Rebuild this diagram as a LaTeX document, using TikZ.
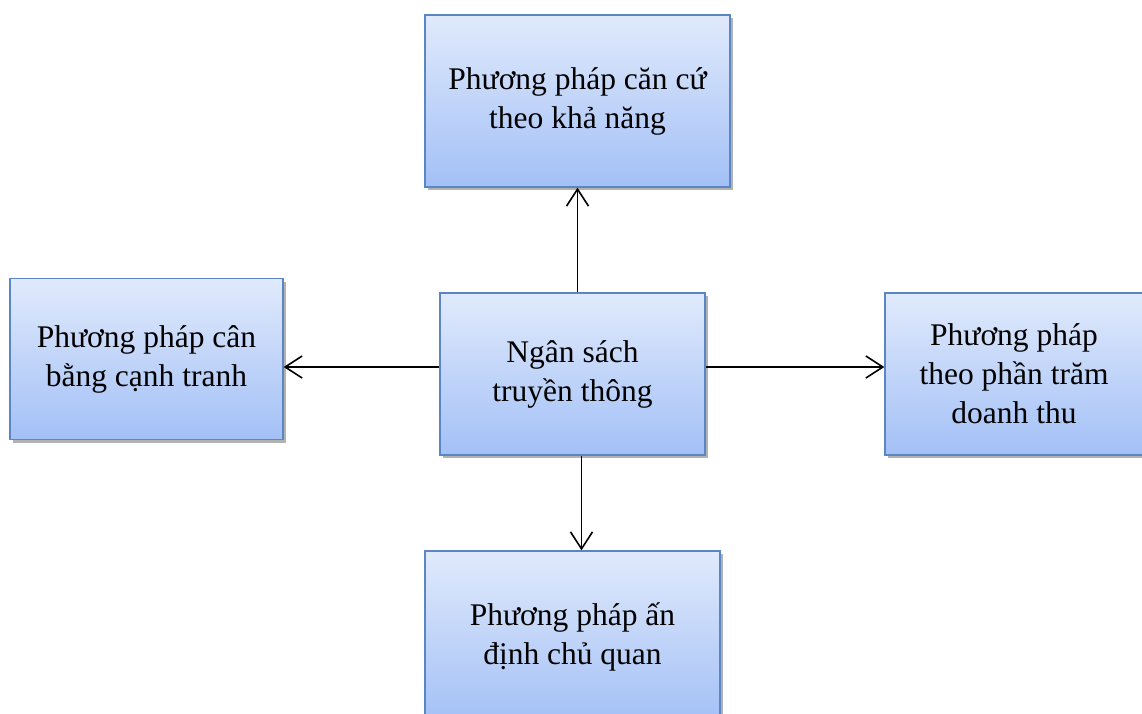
\documentclass[tikz,border=0pt]{standalone}
\usepackage{fontspec}
\setmainfont{Liberation Serif}
\usetikzlibrary{arrows.meta,shadows,calc}
\definecolor{boxtop}{HTML}{E0EAFC}
\definecolor{boxbot}{HTML}{A3C0F6}
\definecolor{boxline}{HTML}{5A87C4}
\begin{document}
\begin{tikzpicture}[x=1pt,y=-1pt,
  box/.style={rectangle, draw=boxline, line width=1.3pt, top color=boxtop, bottom color=boxbot,
    drop shadow={shadow xshift=2.5pt, shadow yshift=-3pt, fill=black, opacity=0.3},
    align=center, font=\fontsize{31.5}{39}\selectfont, inner sep=0pt},
  arr/.style={line width=1.6pt, -{Straight Barb[length=17pt,width=22pt,line width=1.6pt]}}]
\useasboundingbox (0,0) rectangle (1142,713);
\node[box, minimum width=305pt, minimum height=172pt] (top) at (577.5,101) {Phương pháp căn cứ\\theo khả năng};
\node[box, minimum width=265pt, minimum height=162pt] (center) at (572.5,374) {Ngân sách\\truyền thông};
\node[box, minimum width=273pt, minimum height=161pt] (left) at (146.5,359) {Phương pháp cân\\bằng cạnh tranh};
\node[box, minimum width=258pt, minimum height=162pt] (right) at (1014,374) {Phương pháp\\theo phần trăm\\doanh thu};
\node[box, minimum width=295pt, minimum height=172pt] (bottom) at (572.5,637) {Phương pháp ấn\\định chủ quan};
\coordinate (lc) at ([yshift=7pt]center.west);
\coordinate (rc) at ([yshift=7pt]center.east);
\draw[arr] (center.north -| top.south) -- (top.south);
\draw[arr] ([xshift=9pt]center.south) -- ([xshift=9pt]bottom.north);
\draw[arr] (lc) -- (lc -| left.east);
\draw[arr] (rc) -- (rc -| right.west);
\end{tikzpicture}
\end{document}
